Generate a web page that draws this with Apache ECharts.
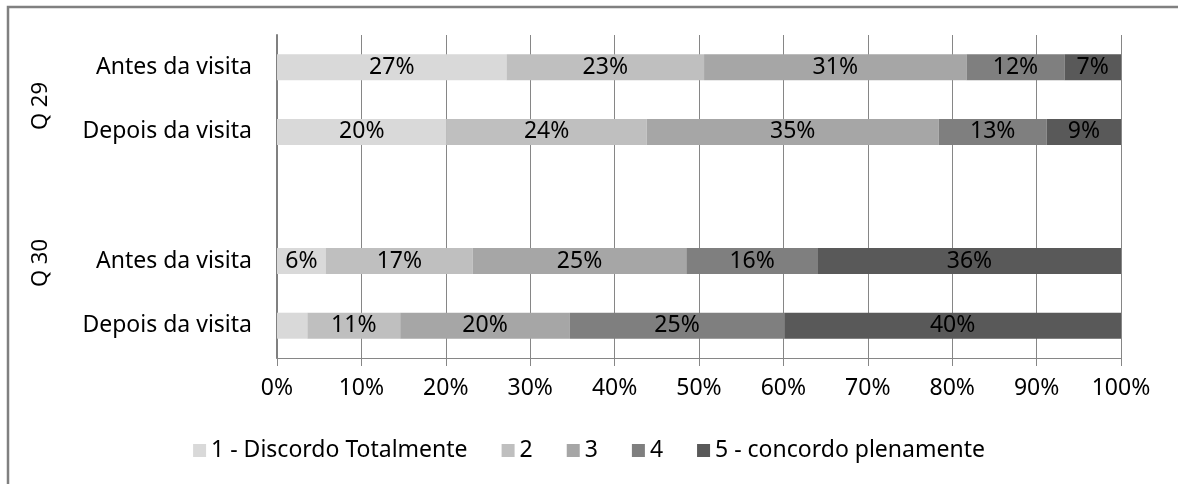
<!DOCTYPE html>
<html lang="pt">
<head>
    <meta charset="UTF-8">
    <title>Q29 / Q30</title>
    <script src="https://cdn.jsdelivr.net/npm/echarts@6/dist/echarts.min.js"></script>
</head>
<body style="margin:0;">
<div id="bar" style="width: 1178px;height: 484px;"></div>
<script>
    // categorias (de cima para baixo); '' = espaço entre Q29 e Q30
    var categories = ['Antes da visita', 'Depois da visita', '', 'Antes da visita', 'Depois da visita'];
    var groups = ['Q 29', 'Q 30'];
    var seriesNames = ['1 - Discordo Totalmente', '2', '3', '4', '5 - concordo plenamente'];
    var xTicks = [0, 10, 20, 30, 40, 50, 60, 70, 80, 90, 100];
    // percentagens por nível de concordância
    var nivel1 = [27.2, 20.1, '-', 5.8, 3.6];
    var nivel2 = [23.4, 23.7, '-', 17.4, 11.0];
    var nivel3 = [31.1, 34.6, '-', 25.3, 20.1];
    var nivel4 = [11.6, 12.8, '-', 15.6, 25.4];
    var nivel5 = [6.7, 8.8, '-', 35.9, 39.9];

    var cores = ['#d9d9d9', '#bfbfbf', '#a6a6a6', '#7f7f7f', '#595959'];
    var fonte = "'Noto Sans', sans-serif";

    var myChart = echarts.init(document.getElementById('bar'));
    var allData = [nivel1, nivel2, nivel3, nivel4, nivel5];
    var series = [];
    for (var i = 0; i < allData.length; i++) {
        series.push({
            name: seriesNames[i],
            type: 'bar',
            stack: 'total',
            barWidth: 26,
            data: allData[i],
            itemStyle: { color: cores[i] },
            label: {
                show: true,
                position: 'inside',
                color: '#000',
                fontFamily: fonte,
                fontSize: 23,
                formatter: function (p) {
                    if (p.value < 5) return '';   // segmento pequeno sem rótulo
                    return Math.round(p.value) + '%';
                }
            }
        });
    }

    var option = {
        backgroundColor: '#fff',
        textStyle: { fontFamily: fonte },
        animation: false,
        graphic: [
            {
                type: 'rect',
                shape: { x: 8, y: 7, width: 1300, height: 700 },
                style: { fill: 'none', stroke: '#808080', lineWidth: 2.5 },
                silent: true
            },
            {
                type: 'text',
                x: 41, y: 106, rotation: Math.PI / 2,
                style: { text: groups[0], font: "22px " + fonte, fill: '#000', align: 'center', verticalAlign: 'middle' }
            },
            {
                type: 'text',
                x: 41, y: 263, rotation: Math.PI / 2,
                style: { text: groups[1], font: "22px " + fonte, fill: '#000', align: 'center', verticalAlign: 'middle' }
            },
            {
                // linha do eixo horizontal
                type: 'line',
                shape: { x1: 277, y1: 358.5, x2: 1121, y2: 358.5 },
                style: { stroke: '#868686', lineWidth: 1 },
                z: 10
            }
        ],
        grid: {
            top: 35,
            right: 57,
            bottom: 126,
            left: 277
        },
        legend: {
            bottom: 17,
            left: 'center',
            icon: 'rect',
            itemWidth: 13,
            itemHeight: 13,
            itemGap: 34,
            textStyle: { fontSize: 23, color: '#000', fontFamily: fonte },
            data: seriesNames
        },
        xAxis: {
            type: 'value',
            min: xTicks[0],
            max: xTicks[xTicks.length - 1],
            interval: 10,
            axisLabel: {
                formatter: '{value}%',
                color: '#000',
                fontSize: 23,
                margin: 19
            },
            axisLine: { show: true, onZero: false, lineStyle: { color: '#868686', width: 1 } },
            axisTick: { show: true, length: 8, lineStyle: { color: '#868686' } },
            splitLine: { show: true, lineStyle: { color: '#868686', width: 1 } }
        },
        yAxis: {
            type: 'category',
            inverse: true,
            data: categories,
            axisLine: { show: true, lineStyle: { color: '#808080', width: 2 } },
            axisTick: { show: false },
            axisLabel: { color: '#000', fontSize: 23, margin: 25 }
        },
        series: series
    };
    myChart.setOption(option);
</script>
</body>
</html>
